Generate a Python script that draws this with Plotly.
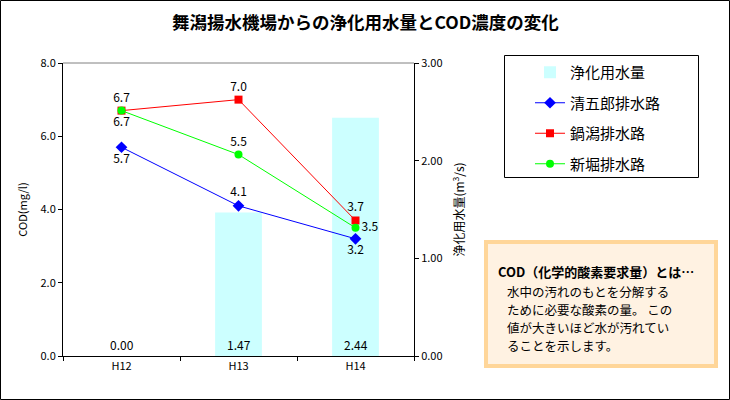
import plotly.graph_objects as go

categories = ["H12", "H13", "H14"]
water_volume = [0.00, 1.47, 2.44]
seigoro = [5.7, 4.1, 3.2]
nabegata = [6.7, 7.0, 3.7]
shinbori = [6.7, 5.5, 3.5]

info_title = "COD（化学的酸素要求量）とは…"
info_lines = ["水中の汚れのもとを分解する", "ために必要な酸素の量。 この",
              "値が大きいほど水が汚れてい", "ることを示します。"]

FONT = "Noto Sans CJK JP"

fig = go.Figure()
fig.add_trace(go.Bar(
    x=categories, y=water_volume, name="浄化用水量", yaxis="y",
    marker=dict(color="#CCFFFF", line=dict(width=0)), width=0.4,
    legendgroup="a"))
fig.add_trace(go.Scatter(
    x=categories, y=seigoro, name="清五郎排水路", mode="lines+markers+text", yaxis="y2",
    line=dict(color="#0000FF", width=1), marker=dict(symbol="diamond", size=9, color="#0000FF"),
    text=[f"{v:.1f}" for v in seigoro], textposition=["bottom center", "top center", "bottom center"],
    textfont=dict(size=12, color="black"), legendgroup="b"))
fig.add_trace(go.Scatter(
    x=categories, y=nabegata, name="鍋潟排水路", mode="lines+markers+text", yaxis="y2",
    line=dict(color="#FF0000", width=1), marker=dict(symbol="square", size=8, color="#FF0000"),
    text=[f"{v:.1f}" for v in nabegata], textposition=["top center", "top center", "top center"],
    textfont=dict(size=12, color="black"), legendgroup="c"))
fig.add_trace(go.Scatter(
    x=categories, y=shinbori, name="新堀排水路", mode="lines+markers+text", yaxis="y2",
    line=dict(color="#00FF00", width=1), marker=dict(symbol="circle", size=8, color="#00FF00"),
    text=[f"{v:.1f}" for v in shinbori], textposition=["bottom center", "top center", "middle right"],
    textfont=dict(size=12, color="black"), legendgroup="d"))

W, H = 730, 400
L, R, T, B = 63, 414, 63, 356

def px(x):
    return (x - L) / (R - L)

def py(y):
    return (B - y) / (B - T)

annotations = []
for c, v in zip(categories, water_volume):
    annotations.append(dict(x=c, y=0, xref="x", yref="y", text=f"{v:.2f}", showarrow=False,
                            yanchor="bottom", yshift=1, font=dict(size=12, color="black")))

annotations.append(dict(x=px(365), y=py(22), xref="paper", yref="paper",
                        xanchor="center", yanchor="middle",
                        text="<b>舞潟揚水機場からの浄化用水量とCOD濃度の変化</b>",
                        showarrow=False, font=dict(size=17.5, color="black")))
annotations.append(dict(x=px(496), y=py(271), xref="paper", yref="paper",
                        xanchor="left", yanchor="middle",
                        text=f"<b>{info_title}</b>", showarrow=False,
                        font=dict(size=13, color="black")))
for i, line in enumerate(info_lines):
    annotations.append(dict(x=px(505), y=py(291 + i * 18), xref="paper", yref="paper",
                            xanchor="left", yanchor="middle", align="left",
                            text=line, showarrow=False, font=dict(size=12.5, color="black")))

shapes = [
    dict(type="rect", xref="paper", yref="paper", x0=px(0.5), x1=px(729.5), y0=py(0.5), y1=py(399.5),
         line=dict(color="black", width=1)),
    dict(type="line", xref="paper", yref="paper", x0=0, x1=1, y0=1, y1=1,
         line=dict(color="#808080", width=1)),
    dict(type="rect", xref="paper", yref="paper", x0=px(486), x1=px(716), y0=py(242), y1=py(366),
         line=dict(color="#FFD699", width=4), fillcolor="#FFF2E2", layer="below"),
    dict(type="rect", xref="paper", yref="paper", x0=px(504.5), x1=px(698.5), y0=py(55.5), y1=py(177.5),
         line=dict(color="black", width=1), fillcolor="white", layer="below"),
]

fig.update_layout(
    width=W, height=H,
    margin=dict(l=L, r=W - R, t=T, b=H - B, autoexpand=False),
    paper_bgcolor="white", plot_bgcolor="white",
    font=dict(family=FONT, size=11, color="black"),
    showlegend=True,
    legend=dict(x=px(530), y=py(56), xanchor="left", yanchor="top",
                borderwidth=0, bgcolor="rgba(0,0,0,0)",
                font=dict(size=15), traceorder="grouped", tracegroupgap=8,
                itemwidth=30),
    xaxis=dict(showline=True, linecolor="black", ticks="outside", tickson="boundaries",
               ticklen=4, tickcolor="black", showgrid=False, tickfont=dict(size=11)),
    yaxis=dict(range=[0, 3], dtick=1, tickformat=".2f", side="right",
               showline=True, linecolor="black", ticks="outside", ticklen=4, tickcolor="black",
               showgrid=False, zeroline=False,
               title=dict(text="浄化用水量(m<sup>3</sup>/s)", font=dict(size=12), standoff=14)),
    yaxis2=dict(range=[0, 8], dtick=2, tickformat=".1f", overlaying="y", side="left",
                showline=True, linecolor="black",
                ticks="outside", ticklen=4, tickcolor="black", showgrid=False, zeroline=False,
                title=dict(text="COD(mg/l)", font=dict(size=11), standoff=10)),
    annotations=annotations, shapes=shapes,
    bargap=0.6,
)

fig.write_html("out.html", config={"displayModeBar": False},
               post_script="document.body.style.margin='0';document.body.style.overflow='hidden';")
